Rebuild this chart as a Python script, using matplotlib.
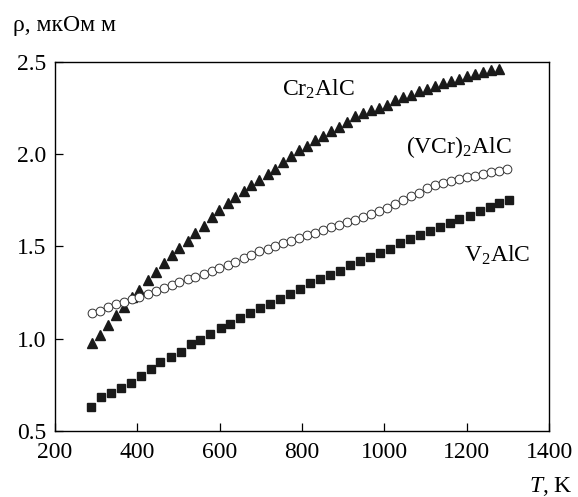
import matplotlib
matplotlib.use("Agg")
import matplotlib.pyplot as plt

plt.rcParams['font.family'] = ['Liberation Serif', 'DejaVu Serif']
plt.rcParams['mathtext.fontset'] = 'custom'
plt.rcParams['mathtext.rm'] = 'Liberation Serif'
plt.rcParams['mathtext.it'] = 'Liberation Serif:italic'

# V2AlC (squares)
t_v = [287, 311, 335, 360, 384, 408, 432, 456, 481, 505, 529, 553, 577, 602, 626,
       650, 674, 698, 723, 747, 771, 795, 819, 844, 868, 892, 916, 940, 965, 989,
       1013, 1037, 1061, 1086, 1110, 1134, 1158, 1182, 1207, 1231, 1255, 1279, 1303]
rho_v = [0.632, 0.683, 0.704, 0.731, 0.760, 0.798, 0.836, 0.872, 0.901, 0.930,
         0.970, 0.995, 1.026, 1.058, 1.082, 1.111, 1.138, 1.167, 1.188, 1.215,
         1.241, 1.271, 1.300, 1.322, 1.344, 1.369, 1.398, 1.423, 1.441, 1.466,
         1.488, 1.517, 1.539, 1.561, 1.584, 1.604, 1.626, 1.647, 1.667, 1.692,
         1.716, 1.734, 1.750]

# Cr2AlC (triangles)
t_cr = [289, 308, 328, 347, 367, 386, 405, 425, 444, 464, 483, 502, 522, 541, 561,
        580, 599, 619, 638, 658, 677, 696, 716, 735, 754, 774, 793, 812, 832, 851,
        871, 890, 909, 929, 948, 968, 987, 1006, 1026, 1045, 1064, 1084, 1103, 1123,
        1142, 1161, 1181, 1200, 1219, 1239, 1258, 1277]
rho_cr = [0.975, 1.022, 1.072, 1.127, 1.172, 1.225, 1.265, 1.318, 1.362, 1.408,
          1.452, 1.492, 1.532, 1.572, 1.612, 1.660, 1.700, 1.735, 1.770, 1.800,
          1.835, 1.862, 1.895, 1.922, 1.958, 1.988, 2.022, 2.043, 2.075, 2.100,
          2.128, 2.150, 2.175, 2.205, 2.226, 2.240, 2.252, 2.268, 2.292, 2.310,
          2.322, 2.340, 2.355, 2.372, 2.385, 2.395, 2.408, 2.422, 2.433, 2.448,
          2.456, 2.460]

# (VCr)2AlC (open circles)
t_vcr = [289, 308, 328, 347, 367, 386, 405, 425, 444, 464, 483, 502, 522, 541, 561,
         580, 599, 619, 638, 658, 677, 696, 716, 735, 754, 774, 793, 812, 832, 851,
         871, 890, 909, 929, 948, 968, 987, 1006, 1026, 1045, 1064, 1084, 1103, 1123,
         1142, 1161, 1181, 1200, 1219, 1239, 1258, 1277, 1297]
rho_vcr = [1.139, 1.152, 1.170, 1.186, 1.200, 1.215, 1.228, 1.242, 1.260, 1.275,
           1.292, 1.308, 1.322, 1.336, 1.350, 1.368, 1.385, 1.400, 1.418, 1.438,
           1.456, 1.474, 1.489, 1.503, 1.517, 1.531, 1.546, 1.561, 1.575, 1.589,
           1.603, 1.617, 1.633, 1.645, 1.660, 1.678, 1.694, 1.708, 1.732, 1.752,
           1.772, 1.792, 1.815, 1.832, 1.845, 1.855, 1.866, 1.876, 1.884, 1.894,
           1.901, 1.910, 1.920]

x_ticks = [200, 400, 600, 800, 1000, 1200, 1400]
y_ticks = [0.5, 1.0, 1.5, 2.0, 2.5]

fs = 17

fig = plt.figure(figsize=(5.78, 4.97), dpi=100)
ax = fig.add_axes([0.0952, 0.1328, 0.855, 0.7425])

ax.plot(t_v, rho_v, ls='none', marker='s', ms=5.6, color='#1a1a1a')
ax.plot(t_cr, rho_cr, ls='none', marker='^', ms=7.2, color='#1a1a1a')
ax.plot(t_vcr, rho_vcr, ls='none', marker='o', ms=6.3, mfc='white',
        mec='#333333', mew=0.7)

ax.set_xlim(200, 1400)
ax.set_ylim(0.5, 2.5)
ax.set_xticks(x_ticks)
ax.set_yticks(y_ticks)
ax.set_xticklabels([str(v) for v in x_ticks])
ax.set_yticklabels(['%.1f' % v for v in y_ticks])
ax.tick_params(direction='in', length=6, width=0.9, labelsize=fs,
               top=False, right=False)
ax.tick_params(axis='x', pad=8)
ax.tick_params(axis='y', pad=6)
for s in ax.spines.values():
    s.set_linewidth(1.0)

ax.text(751, 2.35, r'Cr$_2$AlC', fontsize=fs, va='center', ha='left')
ax.text(1052, 2.04, r'(VCr)$_2$AlC', fontsize=fs, va='center', ha='left')
ax.text(1194, 1.454, r'V$_2$AlC', fontsize=fs, va='center', ha='left')

fig.text(13 / 578, 1 - 26 / 497, 'ρ, мкОм м', fontsize=fs, va='center', ha='left')
fig.text(573 / 578, 1 - 486 / 497, r'$T$, K', fontsize=fs, va='center', ha='right')

fig.savefig('out.png', dpi=100)
